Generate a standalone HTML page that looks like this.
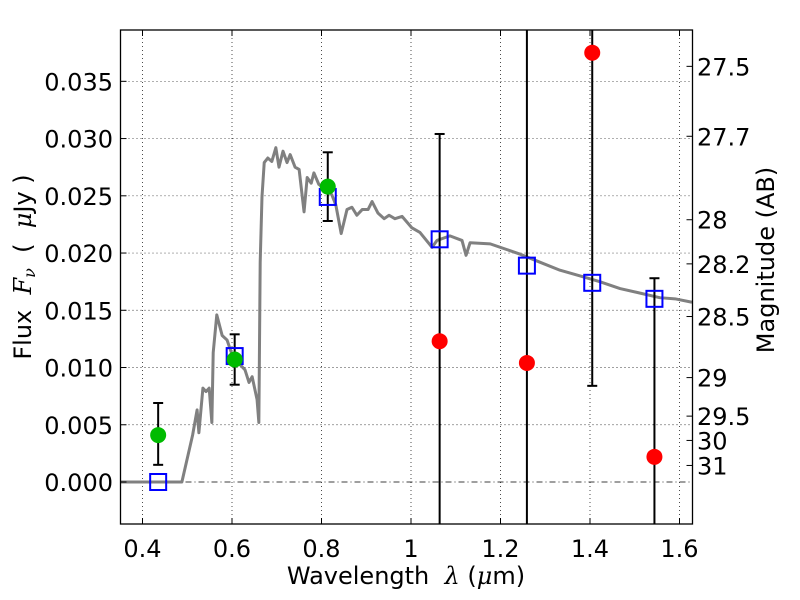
<!DOCTYPE html>
<html><head><meta charset="utf-8">
<style>
html,body{margin:0;padding:0;background:#fff;}
svg{display:block;font-family:"DejaVu Sans","Liberation Sans",sans-serif;}
.pre{white-space:pre;}
</style></head>
<body>
<svg id="chart" width="800" height="600" viewBox="0 0 800 600" xmlns="http://www.w3.org/2000/svg"></svg>
<script>
const specLam = [0.350,0.488,0.512,0.522,0.526,0.535,0.542,0.549,0.555,0.558,0.566,0.578,0.589,0.602,0.629,0.638,0.645,0.656,0.660,0.663,0.667,0.672,0.680,0.689,0.698,0.705,0.714,0.723,0.730,0.741,0.750,0.761,0.768,0.777,0.783,0.794,0.823,0.832,0.844,0.857,0.868,0.879,0.891,0.904,0.913,0.926,0.940,0.951,0.964,0.980,0.991,1.002,1.020,1.047,1.058,1.087,1.114,1.123,1.132,1.177,1.244,1.288,1.333,1.378,1.422,1.467,1.512,1.556,1.590,1.628];
const specFlux = [0,0,0.0041,0.0063,0.0043,0.0082,0.0079,0.0082,0.0052,0.0113,0.0146,0.0128,0.0124,0.0109,0.0098,0.0087,0.0092,0.0072,0.0052,0.0192,0.0249,0.0279,0.0283,0.0280,0.0292,0.0275,0.0289,0.0279,0.0286,0.0275,0.0273,0.0236,0.0266,0.0261,0.0270,0.0260,0.0251,0.0242,0.0217,0.0238,0.0240,0.0233,0.0238,0.0238,0.0245,0.0235,0.0230,0.0233,0.0230,0.0232,0.0227,0.0222,0.0218,0.0205,0.0211,0.0215,0.0211,0.0198,0.0209,0.0208,0.0199,0.0192,0.0185,0.0180,0.0175,0.0169,0.0165,0.0161,0.0160,0.0157];
const modelLam = [0.435,0.606,0.814,1.064,1.259,1.405,1.544];
const modelFlux = [0.0000,0.0110,0.0249,0.0212,0.0189,0.0174,0.0160];
const detLam = [0.435,0.606,0.814];
const detFlux = [0.0041,0.0107,0.0258];
const detLo = [0.0015,0.0085,0.0228];
const detHi = [0.0069,0.0129,0.0288];
const ulLam = [1.064,1.259,1.405,1.544];
const ulFlux = [0.0123,0.0104,0.0375,0.0022];
const ulLo = [-0.01,-0.01,0.0084,-0.01];
const ulHi = [0.0304,0.06,0.06,0.0178];
const xTicks = [0.4,0.6,0.8,1.0,1.2,1.4,1.6];
const xTickLabels = ["0.4","0.6","0.8","1","1.2","1.4","1.6"];
const yTicks = [0,0.005,0.010,0.015,0.020,0.025,0.030,0.035];
const yTickLabels = ["0.000","0.005","0.010","0.015","0.020","0.025","0.030","0.035"];
const magTicks = [27.5,27.7,28,28.2,28.5,29,29.5,30,31];
const magTickLabels = ["27.5","27.7","28","28.2","28.5","29","29.5","30","31"];

const L=120.5,R=692.5,T=30,B=524;
const X=v=>142.5+(v-0.4)*447.5;
const Y=f=>482-f*11448;
const NS="http://www.w3.org/2000/svg";
const svg=document.getElementById('chart');
function mk(tag,attrs,parent){const e=document.createElementNS(NS,tag);for(const k in attrs)e.setAttribute(k,attrs[k]);(parent||svg).appendChild(e);return e;}

const defs=mk('defs',{});
const cp=mk('clipPath',{id:'clip'},defs);
mk('rect',{x:L,y:T,width:R-L,height:B-T},cp);

const grid=mk('g',{});


xTicks.forEach(v=>{const l=mk('line',{x1:X(v),x2:X(v),y1:T,y2:B,stroke:'#000','stroke-width':0.7,'stroke-dasharray':'1,3'},grid);

});
yTicks.forEach(v=>{if(v===0)return;const l=mk('line',{x1:L,x2:R,y1:Y(v),y2:Y(v),stroke:'#000','stroke-width':0.7,'stroke-dasharray':'1,3'},grid);

});
const zl=mk('line',{x1:L,x2:R,y1:Y(0),y2:Y(0),stroke:'#000','stroke-width':0.8,'stroke-dasharray':'6,3,1,3'});



const plot=mk('g',{'clip-path':'url(#clip)'});
const sp=mk('polyline',{points:specLam.map((l,i)=>X(l)+','+Y(specFlux[i])).join(' '),fill:'none',stroke:'#808080','stroke-width':3,'stroke-linejoin':'round'},plot);



function ebar(lam,lo,hi,name){const g=mk('g',{},plot);


mk('line',{x1:X(lam),x2:X(lam),y1:Y(lo),y2:Y(hi),stroke:'#000','stroke-width':2},g);
[lo,hi].forEach(v=>mk('line',{x1:X(lam)-5,x2:X(lam)+5,y1:Y(v),y2:Y(v),stroke:'#000','stroke-width':2},g));}
detLam.forEach((l,i)=>ebar(l,detLo[i],detHi[i],'detection-errorbar'));
ulLam.forEach((l,i)=>ebar(l,ulLo[i],ulHi[i],'upper-limit-errorbar'));

modelLam.forEach((l,i)=>{const r=mk('rect',{x:X(l)-8,y:Y(modelFlux[i])-8,width:16,height:16,fill:'none',stroke:'#0000ff','stroke-width':2},plot);

});
detLam.forEach((l,i)=>{const c=mk('circle',{cx:X(l),cy:Y(detFlux[i]),r:8,fill:'#00bb00'},plot);

});
ulLam.forEach((l,i)=>{const c=mk('circle',{cx:X(l),cy:Y(ulFlux[i]),r:8,fill:'#ff0000'},plot);

});

const fr=mk('rect',{x:L,y:T,width:R-L,height:B-T,fill:'none',stroke:'#000','stroke-width':1.3});



xTicks.forEach((v,i)=>{mk('line',{x1:X(v),x2:X(v),y1:B,y2:B-6,stroke:'#000'});mk('line',{x1:X(v),x2:X(v),y1:T,y2:T+6,stroke:'#000'});
const t=mk('text',{x:X(v),y:B+33,'font-size':24,'text-anchor':'middle'});t.textContent=xTickLabels[i];

});
yTicks.forEach((v,i)=>{mk('line',{x1:L,x2:L+6,y1:Y(v),y2:Y(v),stroke:'#000'});
const t=mk('text',{x:113,y:Y(v)+9,'font-size':24,'text-anchor':'end'});t.textContent=yTickLabels[i];

});
magTicks.forEach((m,i)=>{const f=Math.pow(10,(23.9-m)/2.5);mk('line',{x1:R-6,x2:R,y1:Y(f),y2:Y(f),stroke:'#000'});
const t=mk('text',{x:697,y:Y(f)+9,'font-size':24});t.textContent=magTickLabels[i];

});
</script>
<svg style="position:absolute;left:0;top:0" width="800" height="600" xmlns="http://www.w3.org/2000/svg" font-family="DejaVu Sans, Liberation Sans, sans-serif">
<text class="pre" x="406" y="584" font-size="24" text-anchor="middle">Wavelength  <tspan font-style="italic" font-family="DejaVu Serif, serif">λ</tspan> (<tspan font-style="italic" font-family="DejaVu Serif, serif">μ</tspan>m)</text>
<text class="pre" transform="translate(31,267) rotate(-90)" font-size="24" text-anchor="middle">Flux  <tspan font-style="italic" font-family="DejaVu Serif, serif">F</tspan><tspan font-style="italic" font-family="DejaVu Serif, serif" font-size="16" dy="4">ν</tspan><tspan dy="-4">  (  </tspan><tspan font-style="italic" font-family="DejaVu Serif, serif">μ</tspan>Jy )</text>
<text transform="translate(774,260) rotate(-90)" font-size="24" text-anchor="middle">Magnitude (AB)</text>
</svg>
</body></html>
